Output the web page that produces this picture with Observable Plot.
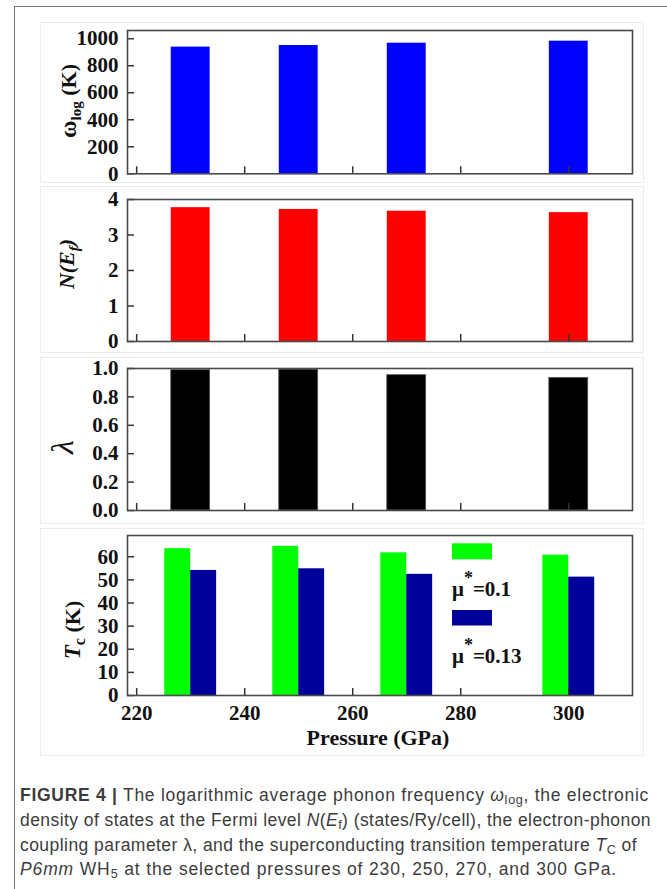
<!DOCTYPE html>
<html>
<head>
<meta charset="utf-8">
<script src="https://cdn.jsdelivr.net/npm/d3@7"></script>
<script src="https://cdn.jsdelivr.net/npm/@observablehq/plot@0.6"></script>
<style>
  body { margin: 0; background: #fff; }
  #root { position: relative; width: 667px; height: 889px; overflow: hidden; background: #fff; }
  .abs { position: absolute; }
  .pbox { position: absolute; border: 1px solid #ececec; box-sizing: border-box; }
  .cap { position: absolute; left: 20px; white-space: nowrap; font-family: "Liberation Sans", Arial, sans-serif;
         font-size: 17.5px; line-height: 25px; color: #3c3c3c; }
  .cap sub { font-size: 0.72em; line-height: 0; vertical-align: -0.25em; }
</style>
</head>
<body>
<div id="root">
  <div class="abs" style="left:14px;top:6px;width:700px;height:900px;border-top:1.5px solid #777;border-left:1.5px solid #777;"></div>
  <div class="pbox" style="left:40px;top:22px;width:604px;height:161px;"></div>
  <div class="pbox" style="left:40px;top:186px;width:604px;height:167px;"></div>
  <div class="pbox" style="left:40px;top:357px;width:604px;height:167px;"></div>
  <div class="pbox" style="left:40px;top:528px;width:604px;height:228px;"></div>
  <div id="panels"></div>
  <div class="cap" data-w="629" style="top:783px;"><b>FIGURE 4 |</b> The logarithmic average phonon frequency <i>ω</i><sub>log</sub>, the electronic</div>
  <div class="cap" data-w="631" style="top:808px;">density of states at the Fermi level <i>N</i>(<i>E</i><sub>f</sub>) (states/Ry/cell), the electron-phonon</div>
  <div class="cap" data-w="617" style="top:833px;">coupling parameter λ, and the superconducting transition temperature <i>T</i><sub>C</sub> of</div>
  <div class="cap" data-w="597" style="top:857px;"><i>P6mm</i> WH<sub>5</sub> at the selected pressures of 230, 250, 270, and 300 GPa.</div>
</div>
<script>
// ---------- data ----------
const pressures = [230, 250, 270, 300];
const omegaLog  = [938, 950, 967, 982];
const nEf       = [3.77, 3.72, 3.67, 3.63];
const lambdaEP  = [0.988, 0.992, 0.953, 0.934];
const tcMu010   = [63.5, 64.5, 61.7, 60.7];
const tcMu013   = [54.1, 54.8, 52.4, 51.2];
const xTicks    = [220, 240, 260, 280, 300];
const omegaTicks = [0, 200, 400, 600, 800, 1000];
const nEfTicks   = [0, 1, 2, 3, 4];
const lambdaTicks = [0, 0.2, 0.4, 0.6, 0.8, 1.0];
const tcTicks    = [0, 10, 20, 30, 40, 50, 60];
const legendLabels = ["0.1", "0.13"];

// ---------- layout ----------
const W = 667, ML = 127, MR = 35, MT = 15;
const plotW = W - ML - MR;
const xDomain = [218.3, 311.8];
const serif = "'Liberation Serif', 'Times New Roman', serif";
const holder = document.getElementById("panels");

function panel({top, plotH, mb, yDomain, yTicks, fmt, bars, xAxis}) {
  const marks = [...bars,
    Plot.ruleX(xTicks, {x: d => d, insetTop: plotH - 7, stroke: "#333", strokeWidth: 1.5}),
    Plot.ruleY(yTicks, {y: d => d, insetRight: plotW - 7, stroke: "#333", strokeWidth: 1.5}),
    Plot.axisY(yTicks, {tickSize: 0, tickPadding: 9, tickFormat: fmt, label: null}),
  ];
  if (xAxis) marks.push(Plot.axisX(xTicks, {tickSize: 0, tickPadding: 10, tickFormat: d => String(d), label: null}));
  marks.push(Plot.frame({stroke: "#4a4a4a", strokeWidth: 1.6}));
  const svg = Plot.plot({
    width: W, height: MT + plotH + mb,
    marginLeft: ML, marginRight: MR, marginTop: MT, marginBottom: mb,
    x: {domain: xDomain, axis: null},
    y: {domain: yDomain, axis: null},
    style: {fontFamily: serif, fontWeight: "bold", fontSize: "21px", color: "#111", background: "transparent", overflow: "visible"},
    marks
  });
  const div = document.createElement("div");
  div.className = "abs";
  div.style.left = "0px";
  div.style.top = (top - MT) + "px";
  div.appendChild(svg);
  holder.appendChild(div);
  return d3.select(svg);
}

const rows = pressures.map((p, i) => ({p, w: omegaLog[i], n: nEf[i], l: lambdaEP[i], a: tcMu010[i], b: tcMu013[i]}));

// Panel 1: omega_log
const s1 = panel({top: 30, plotH: 143.3, mb: 10, yDomain: [0, 1061], yTicks: omegaTicks, fmt: d => String(d),
  bars: [Plot.rectY(rows, {x1: d => d.p - 3.6, x2: d => d.p + 3.6, y: "w", fill: "#0000ff"})]});
// Panel 2: N(Ef)
const s2 = panel({top: 199, plotH: 142, mb: 10, yDomain: [0, 4], yTicks: nEfTicks, fmt: d => String(d),
  bars: [Plot.rectY(rows, {x1: d => d.p - 3.6, x2: d => d.p + 3.6, y: "n", fill: "#ff0000"})]});
// Panel 3: lambda
const s3 = panel({top: 368, plotH: 142, mb: 10, yDomain: [0, 1], yTicks: lambdaTicks, fmt: d => d.toFixed(1),
  bars: [Plot.rectY(rows, {x1: d => d.p - 3.6, x2: d => d.p + 3.6, y: "l", fill: "#000000", stroke: "#555", strokeWidth: 0.8})]});
// Panel 4: Tc
const s4 = panel({top: 535, plotH: 160, mb: 60, yDomain: [0, 69.2], yTicks: tcTicks, fmt: d => String(d), xAxis: true,
  bars: [
    Plot.rectY(rows, {x1: d => d.p - 4.8, x2: d => d.p, y: "a", fill: "#00ff00"}),
    Plot.rectY(rows, {x1: d => d.p, x2: d => d.p + 4.8, y: "b", fill: "#00009a"})
  ]});

// ---------- y-axis titles ----------
function ylabel(s, x, y, parts) {
  const t = s.append("text").attr("transform", `translate(${x},${y}) rotate(-90)`)
    .attr("text-anchor", "middle").attr("font-family", serif).attr("font-weight", "bold").attr("fill", "#111");
  parts.forEach(([txt, opt]) => {
    const ts = t.append("tspan").text(txt);
    if (opt) for (const k in opt) ts.attr(k, opt[k]);
  });
}
ylabel(s1, 76, 101 - 15, [["ω", {"font-size": 24}], ["log", {"font-size": 15, dy: 5}], [" (K)", {"font-size": 22, dy: -5}]]);
ylabel(s2, 74, 264 - 184, [["N(E", {"font-size": 22, "font-style": "italic"}], ["f", {"font-size": 15, dy: 5, "font-style": "italic"}], [")", {"font-size": 22, dy: -5, "font-style": "italic"}]]);
ylabel(s3, 73, 447 - 353, [["λ", {"font-size": 32, "font-style": "italic", "font-weight": "normal"}]]);
ylabel(s4, 80, 630 - 520, [["T", {"font-size": 23, "font-style": "italic"}], ["c", {"font-size": 16, dy: 5}], [" (K)", {"font-size": 22, dy: -5}]]);

// ---------- x-axis title ----------
s4.append("text").attr("x", 378).attr("y", 745 - 520).attr("text-anchor", "middle")
  .attr("font-family", serif).attr("font-weight", "bold").attr("font-size", 22).attr("fill", "#111")
  .text("Pressure (GPa)");

// ---------- legend ----------
const legColors = ["#00ff00", "#00009a"];
const legRect = [[23.3, 16], [90, 15.5]];
const legText = [76, 142.7];
legendLabels.forEach((lab, i) => {
  s4.append("rect").attr("x", 452).attr("y", legRect[i][0]).attr("width", 40).attr("height", legRect[i][1]).attr("fill", legColors[i]);
  const t = s4.append("text").attr("x", 452).attr("y", legText[i]).attr("text-anchor", "start")
    .attr("font-family", serif).attr("font-weight", "bold").attr("font-size", 21).attr("fill", "#111");
  t.append("tspan").text("μ");
  t.append("tspan").text("*").attr("dy", -12).attr("font-size", 18);
  t.append("tspan").text("=" + lab).attr("dy", 12);
});

// ---------- caption: stretch each line to the reference's width ----------
document.querySelectorAll(".cap").forEach(el => {
  const target = +el.dataset.w;
  const w = el.getBoundingClientRect().width;
  const n = el.textContent.length;
  el.style.letterSpacing = ((target - w) / n) + "px";
});
</script>
</body>
</html>
